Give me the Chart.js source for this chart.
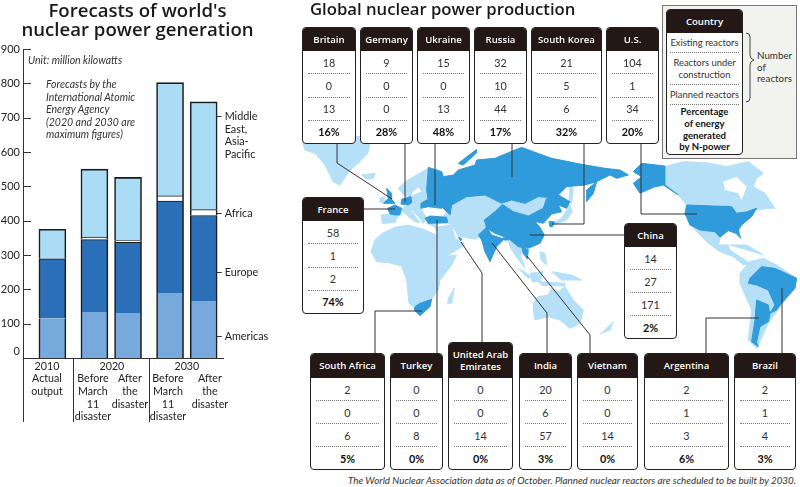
<!DOCTYPE html>
<html>
<head>
<meta charset="utf-8">
<script src="https://cdn.jsdelivr.net/npm/chart.js@4/dist/chart.umd.js"></script>
<style>
  html, body { margin: 0; padding: 0; background: #fff; }
  body { position: relative; width: 800px; height: 487px; overflow: hidden; font-family: Lato, sans-serif; color: #222; }
  .abs { position: absolute; }
  #forecast { position: absolute; left: 0; top: 0; }
  #map { position: absolute; left: 0; top: 0; }
  .note { position: absolute; font-style: italic; font-size: 10.5px; line-height: 12.6px; color: #333; white-space: nowrap; }
  .title1 { position: absolute; left: 0; width: 275px; top: 0; text-align: center; font-family: "Open Sans", sans-serif; font-size: 18.6px; line-height: 19.3px; font-weight: 600; color: #1a1a1a; }
  .title2 { position: absolute; left: 310px; top: -3px; font-family: "Open Sans", sans-serif; font-size: 16.7px; font-weight: 600; color: #1a1a1a; white-space: nowrap; }
  .card { position: absolute; box-sizing: border-box; background: #fff; border: 1px solid #222; border-radius: 4px; overflow: hidden; display: flex; flex-direction: column; }
  .card .head { background: #231815; color: #fff; font-family: "Open Sans", sans-serif; font-weight: 600; font-size: 9.6px; line-height: 11.5px; display: flex; align-items: center; justify-content: center; text-align: center; flex: none; }
  .card .row { flex: 1; display: flex; align-items: center; justify-content: center; text-align: center; font-size: 10.8px; margin: 0 5px; border-bottom: 1px dotted #777; color: #333; }
  .card .row:last-child { border-bottom: 0; font-weight: 700; color: #111; }
  .keybox { position: absolute; left: 662px; top: 5px; width: 135px; height: 154px; box-sizing: border-box; background: #f2f2ee; border: 1px solid #777; }
  .legendcard .row { line-height: 11.3px; font-size: 9.4px; margin: 0 3px; }
  .legendcard .row:last-child { font-size: 9.6px; line-height: 11.6px; }
  .foot { position: absolute; right: 4px; top: 474px; font-style: italic; font-size: 9.8px; color: #333; white-space: nowrap; }
</style>
</head>
<body>
<svg id="map" width="800" height="487"></svg>
<canvas id="forecast" width="275" height="430"></canvas>
<div class="title1">Forecasts of world's<br>nuclear power generation</div>
<div class="note" style="left:28px;top:54px">Unit: million kilowatts</div>
<div class="note" style="left:46px;top:78px">Forecasts by the<br>International Atomic<br>Energy Agency<br>(2020 and 2030 are<br>maximum figures)</div>
<div class="title2">Global nuclear power production</div>
<div class="keybox"></div>
<div id="cards"></div>
<div class="note" style="left:757px;top:50px;font-style:normal;font-size:9.8px;line-height:11.6px">Number<br>of<br>reactors</div>
<div class="foot">The World Nuclear Association data as of October. Planned nuclear reactors are scheduled to be built by 2030.</div>

<script>
// left chart - million kilowatts
const americas = [115, 134, 131, 189, 166];
const europe = [174, 211, 206, 268, 249];
const africa = [0, 7, 5, 15, 17];
const middleEastAsia = [86, 198, 184, 330, 314];
const yTicks = [0, 100, 200, 300, 400, 500, 600, 700, 800, 900];

// right side - one small list per column
const countries = ['Britain', 'Germany', 'Ukraine', 'Russia', 'South Korea', 'U.S.', 'France', 'China',
  'South Africa', 'Turkey', 'United Arab Emirates', 'India', 'Vietnam', 'Argentina', 'Brazil'];
const existing = [18, 9, 15, 32, 21, 104, 58, 14, 2, 0, 0, 20, 0, 2, 2];
const underConstruction = [0, 0, 0, 10, 5, 1, 1, 27, 0, 0, 0, 6, 0, 1, 1];
const planned = [13, 0, 13, 44, 6, 34, 2, 171, 6, 8, 14, 57, 14, 3, 4];
const sharePct = [16, 28, 48, 17, 32, 20, 74, 2, 5, 0, 0, 3, 0, 6, 3];

// layout only: x slots of the bars and x axis text
const barSlots = [0, 5, 9, 14, 18];
const axisLabels = [
  { at: -0.65, lines: ['2010', 'Actual', 'output'] },
  { at: 7.08, lines: ['2020'] },
  { at: 4.82, lines: ['', 'Before', 'March', '11', 'disaster'] },
  { at: 9.23, lines: ['', 'After', 'the', 'disaster'] },
  { at: 16, lines: ['2030'] },
  { at: 13.75, lines: ['', 'Before', 'March', '11', 'disaster'] },
  { at: 18.75, lines: ['', 'After', 'the', 'disaster'] },
];
const separators = [-3.5, 2.46, 11.55];
const seriesNotes = [
  { at: 704, lines: ['Middle', 'East,', 'Asia-', 'Pacific'] },
  { at: 423, lines: ['Africa'] },
  { at: 251, lines: ['Europe'] },
  { at: 64, lines: ['Americas'] },
];

const FONT = 'Lato, sans-serif';
const INK = '#1c1c1c';

function toPoints(values) {
  return values.map((v, i) => ({ x: barSlots[i], y: v }));
}
function seriesSet(label, values, color, top) {
  return {
    label, data: toPoints(values), backgroundColor: color, borderColor: INK,
    borderWidth: { left: 1.6, right: 1.6, top: top, bottom: 0 }, borderSkipped: false,
    barThickness: 27,
  };
}

const chartDecor = {
  id: 'chartDecor',
  afterDatasetsDraw(chart) {
    const { ctx, scales: { x, y } } = chart;
    ctx.save();
    ctx.strokeStyle = '#333';
    ctx.lineWidth = 1;
    // ticks inside the y axis
    yTicks.forEach((v) => {
      if (v === 0) return;
      const py = Math.round(y.getPixelForValue(v)) + 0.5;
      ctx.beginPath(); ctx.moveTo(x.left, py); ctx.lineTo(x.left + 8, py); ctx.stroke();
    });
    // group separators under the axis
    separators.forEach((s) => {
      const px = Math.round(x.getPixelForValue(s)) + 0.5;
      ctx.beginPath(); ctx.moveTo(px, y.bottom); ctx.lineTo(px, y.bottom + 64); ctx.stroke();
    });
    // series names right of the last bar
    const right = x.getPixelForValue(barSlots[4]) + 14;
    ctx.fillStyle = '#222';
    ctx.font = '10.8px ' + FONT;
    ctx.textBaseline = 'middle';
    seriesNotes.forEach((n) => {
      const py = Math.round(y.getPixelForValue(n.at)) + 0.5;
      ctx.beginPath(); ctx.moveTo(right - 1, py); ctx.lineTo(right + 4, py); ctx.stroke();
      n.lines.forEach((t, i) => ctx.fillText(t, right + 7, py + i * 12.6));
    });
    ctx.restore();
  },
};

new Chart(document.getElementById('forecast'), {
  type: 'bar',
  data: {
    datasets: [
      seriesSet('Americas', americas, '#78a9dc', 0),
      seriesSet('Europe', europe, '#2b6fb8', 1),
      seriesSet('Africa', africa, '#ffffff', 1),
      seriesSet('Middle East, Asia-Pacific', middleEastAsia, '#aadcf5', 1.6),
    ],
  },
  options: {
    responsive: false,
    animation: false,
    layout: { padding: { top: 49, right: 52 } },
    plugins: {
      legend: { display: false },
      tooltip: { enabled: false },
    },
    scales: {
      x: {
        type: 'linear',
        offset: false,
        stacked: true,
        min: -3.5,
        max: 20.3,
        grid: { display: false, drawTicks: false },
        border: { color: '#333', width: 1 },
        afterBuildTicks(scale) { scale.ticks = axisLabels.map((l) => ({ value: l.at })); },
        afterFit(scale) { scale.height = 72; scale.paddingLeft = 0; scale.paddingRight = 0; },
        ticks: {
          autoSkip: false, maxRotation: 0, padding: 2, color: '#222',
          font: { family: FONT, size: 10.7, lineHeight: 1.18 },
          callback: (v, i) => axisLabels[i].lines,
        },
      },
      y: {
        stacked: true,
        min: 0,
        max: 900,
        grid: { display: false, drawTicks: false },
        border: { color: '#333', width: 1 },
        afterBuildTicks(scale) { scale.ticks = yTicks.map((v) => ({ value: v })); },
        afterFit(scale) { scale.width = 23; scale.paddingTop = 0; scale.paddingBottom = 0; },
        ticks: {
          padding: 3, color: '#222',
          font: { family: FONT, size: 11, lineHeight: 1.2 },
          callback: (v) => (v === 0 ? ['0', ''] : String(v)),
        },
      },
    },
  },
  plugins: [chartDecor],
});

// cards [left, top, right, bottom, header height]
const cardBoxes = {
  'Britain': [302, 27, 356, 144, 23], 'Germany': [360, 27, 413, 144, 23], 'Ukraine': [417, 27, 470, 144, 23],
  'Russia': [474, 27, 527, 144, 23], 'South Korea': [531, 27, 602, 144, 23], 'U.S.': [606, 27, 659, 144, 23],
  'France': [302, 197, 364, 314, 23], 'China': [624, 223, 677, 339, 23],
  'South Africa': [310, 353, 385, 470, 24], 'Turkey': [390, 353, 443, 470, 24],
  'United Arab Emirates': [448, 342, 513, 470, 35], 'India': [519, 353, 572, 470, 24],
  'Vietnam': [577, 353, 638, 470, 24], 'Argentina': [644, 353, 729, 470, 24], 'Brazil': [734, 353, 796, 470, 24],
};

function addCard(box, head, rows, extraClass) {
  const el = document.createElement('div');
  el.className = 'card ' + (extraClass || '');
  el.style.cssText = `left:${box[0]}px;top:${box[1]}px;width:${box[2] - box[0]}px;height:${box[3] - box[1]}px`;
  const h = document.createElement('div');
  h.className = 'head';
  h.style.height = box[4] + 'px';
  h.textContent = head;
  el.appendChild(h);
  rows.forEach((r) => {
    const d = document.createElement('div');
    d.className = 'row';
    d.innerHTML = r.text;
    if (r.flex) d.style.flex = r.flex;
    el.appendChild(d);
  });
  document.getElementById('cards').appendChild(el);
}

countries.forEach((name, i) => {
  addCard(cardBoxes[name], name, [existing[i], underConstruction[i], planned[i], sharePct[i] + '%'].map((t) => ({ text: String(t) })));
});
addCard([666, 9, 743, 155, 23], 'Country', [
  { text: 'Existing reactors', flex: '0 0 19px' },
  { text: 'Reactors under<br>construction', flex: '0 0 31px' },
  { text: 'Planned reactors', flex: '0 0 19px' },
  { text: 'Percentage<br>of energy<br>generated<br>by N-power', flex: '1' },
], 'legendcard');

// rough world shapes, in a 3x space with origin at (295,140)
const lightLand = [
  '25,-10 225,-10 225,12 218,40 190,70 165,90 135,135 115,125 90,75 60,40 30,30 25,15',
  '200,105 240,100 235,115 215,118',
  '255,175 268,170 268,185 255,188',
  '310,145 330,125 365,105 400,85 395,100 400,140 385,160 370,140 352,155 345,175 325,165',
  '345,170 395,150 405,182 378,185 380,210 395,235 385,250 370,230 350,210 325,215 320,205 350,190',
  '325,215 350,215 375,248 360,245 335,225',
  '258,225 285,222 310,228 300,248 262,250',
  '228,335 240,300 262,280 300,262 340,255 385,268 425,285 445,325 460,348 485,345 470,375 435,420 430,450 410,478 395,500 360,505 342,490 335,420 320,378 280,368 245,365',
  '470,195 515,170 570,165 620,190 600,215 568,240 575,265 555,290 540,298 490,288 470,255 458,248 395,250 420,262',
  '420,262 470,255 480,295 510,315 460,345 440,320',
  '622,195 650,180 690,190 730,170 755,175 745,205 700,228 655,215',
  '640,300 680,315 695,345 675,340 690,385 660,345 645,320',
  '670,385 710,410 700,415',
  '705,400 745,395 735,425 712,425',
  '730,425 810,430 810,438 740,436',
  '770,395 830,405 860,420 800,420',
  '735,335 750,340 755,375 738,360',
  '770,257 775,248 800,235 825,195 832,215 815,240',
  '825,140 835,145 830,190 822,185',
  '715,490 730,470 760,465 770,445 790,455 810,440 835,480 865,510 855,550 825,565 795,540 760,530 720,540 715,510',
  '920,580 955,545 945,570 915,582',
  '460,475 478,445 470,490 458,490',
  '1110,80 1165,65 1235,68 1295,80 1360,65 1405,100 1385,115 1375,140 1410,160 1440,205 1420,205 1385,210 1355,210 1325,220 1310,200 1175,195 1150,165 1110,135',
  '1195,265 1260,275 1275,295 1270,315 1300,315 1305,330 1335,350 1365,370 1345,375 1315,350 1275,335 1240,310 1215,285',
  '1305,315 1355,315 1380,330 1405,345 1375,335',
  '1335,400 1365,365 1405,355 1445,375 1505,415 1500,445 1465,485 1435,530 1420,550 1395,605 1385,625 1360,600 1370,510 1335,430',
];
const darkLand = [
  '400,82 440,95 445,110 475,105 490,90 540,75 545,60 600,55 640,38 680,22 715,35 770,55 855,72 930,85 975,90 1000,105 965,115 945,105 905,125 870,135 815,140 790,165 825,185 815,205 790,195 755,172 730,170 690,190 650,180 620,190 570,165 515,170 470,195 465,225 440,200 420,180 400,185 395,150',
  '490,70 545,28 545,38 505,75',
  '875,185 875,150 905,125 895,160',
  '568,240 600,215 622,193 655,215 700,228 745,205 755,175 790,195 800,215 770,222 745,250 720,245 735,262 748,285 735,310 700,325 670,320 640,295 600,280 575,265',
  '390,235 405,228 455,232 458,248 400,250',
  '550,285 575,262 590,285 620,295 650,290 640,300 625,300 605,320 585,365 570,335 560,300',
  '680,320 700,330 697,357 685,340',
  '490,292 500,296 497,303',
  '762,245 778,245 772,260 765,260',
  '360,500 375,490 410,478 405,500 375,527 358,510',
  '278,205 300,195 320,205 315,225 300,225 285,222',
  '275,145 290,160 290,178 300,190 265,190 280,175',
  '320,178 348,170 350,188 340,195 318,192',
  '378,190 395,180 420,180 445,195 440,205 400,200 378,205',
  '1015,95 1040,70 1110,78 1110,135 1150,165 1105,135 1075,142 1035,160 1015,130 1040,110',
  '1175,195 1310,200 1325,220 1355,215 1385,205 1370,230 1340,255 1330,270 1337,295 1323,280 1300,272 1275,292 1260,275 1215,270 1185,255 1170,220',
  '1365,415 1400,380 1440,385 1505,415 1500,445 1460,490 1445,510 1425,520 1440,495 1420,450 1385,435 1360,430',
  '1385,480 1420,495 1425,525 1420,545 1395,560 1385,605 1390,620 1370,605 1380,540',
];
const whiteHoles = ['1285,125 1325,110 1355,140 1340,180 1330,160 1290,150'];

// leader lines, page pixels
const leaders = [
  '337,144 337,163 392,199', '405,144 405,202', '435,144 435,205', '512,144 512,177',
  '584,144 584,224 552,224', '641,144 641,214 697,214', '364,209 395,209', '624,235 530,235',
  '375,353 375,311 422,311', '437,353 437,220', '482,342 482,273 461,242', '547,353 547,313 492,243',
  '590,353 590,335 527,256', '706,353 706,318 759,318', '782,353 782,288',
];

const NS = 'http://www.w3.org/2000/svg';
const svg = document.getElementById('map');
function shape(parent, tag, attrs) {
  const el = document.createElementNS(NS, tag);
  Object.keys(attrs).forEach((k) => el.setAttribute(k, attrs[k]));
  parent.appendChild(el);
  return el;
}
const world = shape(svg, 'g', { transform: 'translate(295,140) scale(0.3333)' });
lightLand.forEach((p) => shape(world, 'polygon', { points: p, fill: '#b5e0f7', stroke: '#b5e0f7', 'stroke-width': 3, 'stroke-linejoin': 'round' }));
whiteHoles.forEach((p) => shape(world, 'polygon', { points: p, fill: '#fff' }));
darkLand.forEach((p) => shape(world, 'polygon', { points: p, fill: '#2f9bdb', stroke: '#2f9bdb', 'stroke-width': 3, 'stroke-linejoin': 'round' }));
leaders.forEach((p) => shape(svg, 'polyline', { points: p, fill: 'none', stroke: '#333', 'stroke-width': 1 }));

// brace of the key box sits above the cards
const brace = document.createElementNS(NS, 'svg');
brace.setAttribute('width', '800');
brace.setAttribute('height', '487');
brace.setAttribute('class', 'abs');
brace.style.left = '0';
brace.style.top = '0';
shape(brace, 'path', { d: 'M746 33 q4 0 4 4 v18 q0 4 4 5 q-4 1 -4 5 v33 q0 4 -4 4', fill: 'none', stroke: '#444', 'stroke-width': 1 });
document.body.appendChild(brace);
</script>
</body>
</html>
